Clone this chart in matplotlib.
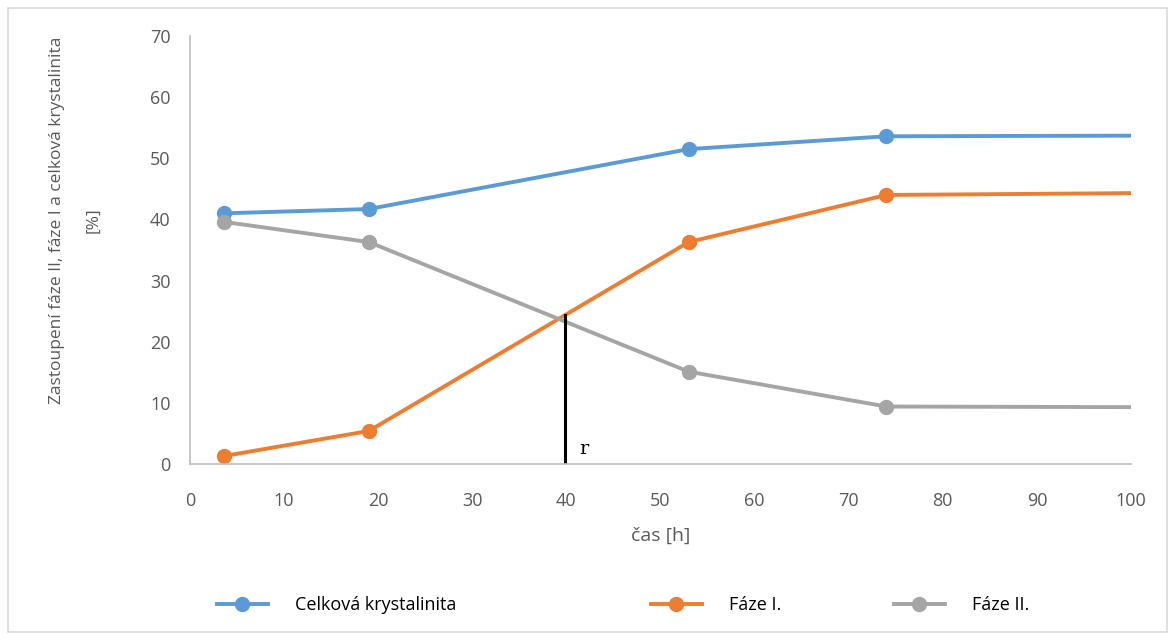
import matplotlib.pyplot as plt
from matplotlib.lines import Line2D
from matplotlib.patches import Rectangle

# Data
cas = [3.6, 19.0, 53.0, 74.0, 100.0]
celkova = [41.0, 41.7, 51.5, 53.6, 53.7]
faze_1 = [1.3, 5.4, 36.3, 44.0, 44.3]
faze_2 = [39.6, 36.3, 15.1, 9.4, 9.3]
labels = ["Celková krystalinita", "Fáze I.", "Fáze II."]
colors = ["#5B9BD5", "#ED7D31", "#A5A5A5"]
r_x = 39.8
r_top = 24.3

plt.rcParams["font.family"] = ["Open Sans", "DejaVu Sans"]

fig = plt.figure(figsize=(11.75, 6.4), dpi=100)
ax = fig.add_axes([190 / 1175, 1 - 464 / 640, (1131 - 190) / 1175, (464 - 36) / 640])

# Outer border of the chart area
fig.patches.append(Rectangle((8 / 1175, 8 / 640), 1159 / 1175, 624 / 640,
                             transform=fig.transFigure, fill=False,
                             edgecolor="#D9D9D9", linewidth=1.2))

for series, col in zip([celkova, faze_1, faze_2], colors):
    ax.plot(cas, series, color=col, linewidth=2.8, marker="o", markersize=10,
            markevery=[0, 1, 2, 3], solid_capstyle="butt")

# vertical marker line r
ax.plot([r_x, r_x], [0, r_top], color="black", linewidth=2.2)
ax.text(r_x + 1.6, 1.6, "r", fontsize=14, family="DejaVu Serif", color="black")

ax.set_xlim(0, 100)
ax.set_ylim(0, 70)
ax.set_xticks(range(0, 101, 10))
ax.set_yticks(range(0, 71, 10))
ax.tick_params(length=0, labelsize=13, labelcolor="#595959", pad=14)
ax.tick_params(axis="x", pad=20)
for side in ["top", "right"]:
    ax.spines[side].set_visible(False)
for side in ["left", "bottom"]:
    ax.spines[side].set_color("#BFBFBF")
    ax.spines[side].set_linewidth(1.2)

ax.set_xlabel("čas [h]", fontsize=14, color="#595959", labelpad=12)
fig.text(57 / 1175, 1 - 220 / 640, "Zastoupení fáze II, fáze I a celková krystalinita",
         rotation=90, ha="center", va="center", fontsize=12.5, color="#595959")
fig.text(93 / 1175, 1 - 220 / 640, "[%]",
         rotation=90, ha="center", va="center", fontsize=12.5, color="#595959")

# Legend entries placed individually
leg_x = [217 / 1175, 651 / 1175, 894 / 1175]
for lab, col, lx in zip(labels, colors, leg_x):
    h = Line2D([], [], color=col, linewidth=2.8, marker="o", markersize=10)
    fig.legend([h], [lab], loc="center left", bbox_to_anchor=(lx, 1 - 605 / 640),
               frameon=False, fontsize=13, handlelength=2.8, handletextpad=1.5,
               borderpad=0, borderaxespad=0, labelcolor="black")

fig.savefig("out.png", dpi=100)
